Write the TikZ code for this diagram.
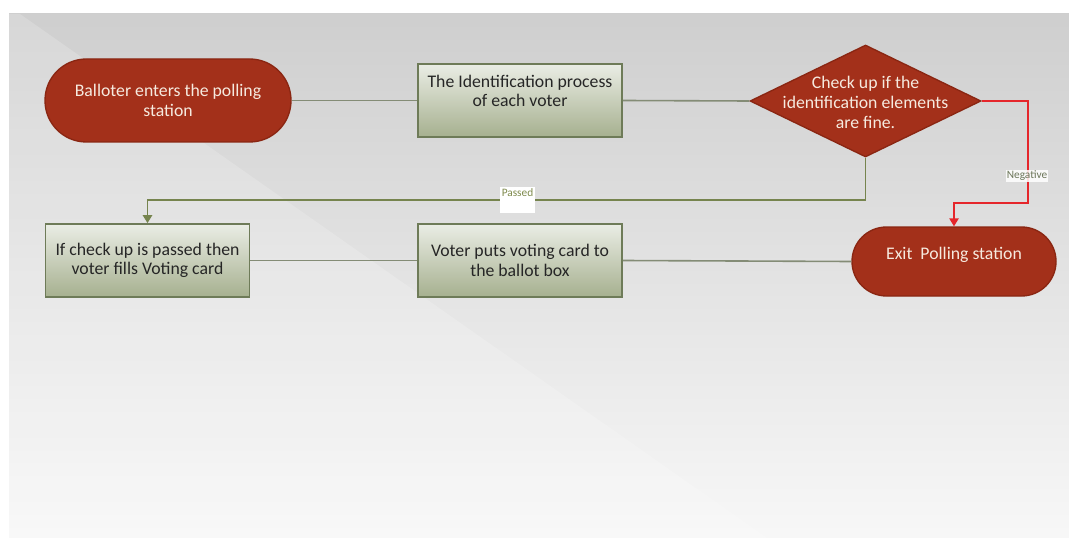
\documentclass[tikz,border=0pt]{standalone}
\usepackage{fontspec}
\setmainfont{Carlito}
\usetikzlibrary{arrows.meta,shapes.geometric}
\definecolor{termred}{HTML}{A3301A}
\definecolor{termedge}{HTML}{8A2612}
\definecolor{termtext}{HTML}{F6EADF}
\definecolor{boxtop}{HTML}{EAEDE5}
\definecolor{boxbot}{HTML}{A6B08F}
\definecolor{boxedge}{HTML}{6E7B58}
\definecolor{linkgray}{HTML}{848C76}
\definecolor{passgreen}{HTML}{76844E}
\definecolor{negred}{HTML}{E5262B}
\definecolor{labeltext}{HTML}{6B7558}
\definecolor{passtext}{HTML}{7E8A4C}
\tikzset{
  x=0.75pt, y=-0.75pt,
  terminal/.style={rectangle, rounded corners=25pt, fill=termred, draw=termedge,
    line width=1pt, text=termtext, align=center, font=\fontsize{13.3}{14.5}\selectfont},
  process/.style={rectangle, top color=boxtop, bottom color=boxbot, draw=boxedge,
    line width=1.3pt, minimum width=153pt, minimum height=54.75pt, align=center,
    text=black!85, font=\fontsize{13.3}{14.5}\selectfont},
  decision/.style={diamond, fill=termred, draw=termedge, line width=1pt,
    minimum width=173.25pt, minimum height=84pt, inner sep=0pt},
  link/.style={draw=linkgray, line width=1.2pt},
  passlink/.style={draw=passgreen, line width=1.2pt,
    -{Triangle[width=7pt,length=6pt]}},
  neglink/.style={draw=negred, line width=1.1pt,
    -{Triangle[width=7pt,length=6pt]}},
  edgelabel/.style={font=\fontsize{8.5}{9}\selectfont, text=labeltext, inner sep=0.8pt}
}
\begin{document}
\begin{tikzpicture}
% page and backdrop
\useasboundingbox (0,0) rectangle (1069,538);
\fill[white] (0,0) rectangle (1069,538);
\shade[top color=black!19, bottom color=black!3] (9,14) rectangle (1069,538);
\fill[white, opacity=0.18] (9,14) -- (20,14) -- (767,538) -- (9,538) -- cycle;

% shapes
\node[terminal, minimum width=184.5pt, minimum height=62.25pt, rounded corners=31pt]
  (start) at (168,100.5) {Balloter enters the polling\\station};
\node[process, text depth=14pt] (ident) at (520,100.5) {The Identification process\\of each voter};
\node[decision] (check) at (865.5,101) {};
\node[align=center, text=termtext, font=\fontsize{13.3}{15}\selectfont]
  (checktext) at (865.5,102) {Check up if the\\identification elements\\are fine.};
\node[process] (fill) at (147.5,260.5) {If check up is passed then\\voter fills Voting card};
\node[process] (ballot) at (520,260.5) {Voter puts voting card to\\the ballot box};
\node[terminal, minimum width=153pt, minimum height=51.75pt, rounded corners=25.8pt,
  text depth=12pt] (exit) at (954,261.5) {Exit\ \ Polling station};

% connectors
\draw[link] (start.east) -- (ident.west);
\draw[link] (ident.east) -- (check.west);
\draw[link] (fill.east) -- (ballot.west);
\draw[link] (ballot.east) -- (exit.west);
\coordinate (passturn) at (865.5,200);
\draw[passlink] (check.south) -- (passturn) -| (fill.north);
\coordinate (negout) at (1028,101);
\coordinate (negdown) at (1028,203);
\draw[neglink] (check.east) -- (negout) -- (negdown) -| (exit.north);

% edge labels
\node[edgelabel, text=passtext, fill=white, anchor=north, minimum width=26pt,
  text height=6pt, text depth=12pt] (passlbl) at (517.5,187) {Passed};
\node[edgelabel, fill=white, fill opacity=0.85, text opacity=1] (neglbl) at (1027,176) {Negative};
\end{tikzpicture}
\end{document}
